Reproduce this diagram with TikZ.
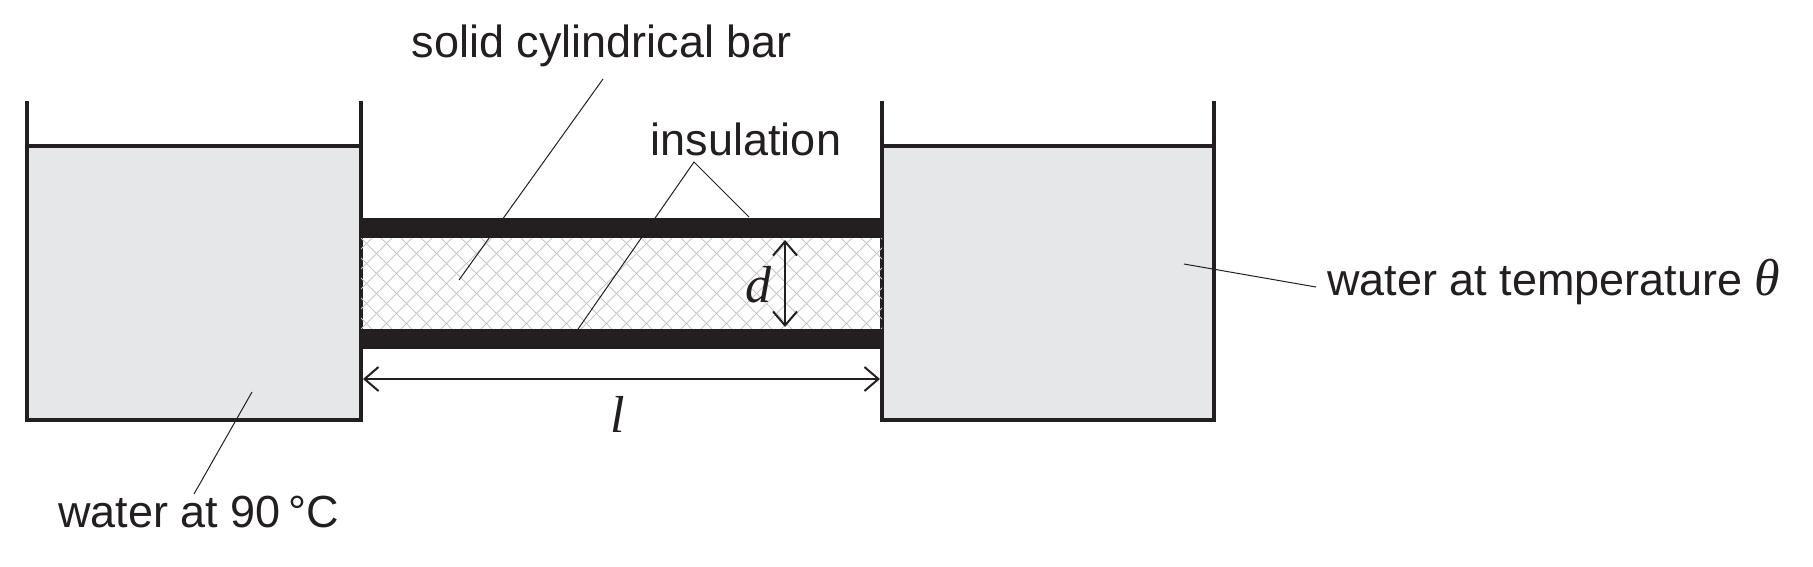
\documentclass[tikz,border=0pt]{standalone}
\usepackage{fontspec}
\setmainfont{Liberation Sans}
\newfontfamily\serif{Liberation Serif}
\usetikzlibrary{arrows.meta}
\definecolor{water}{HTML}{E6E7E9}
\definecolor{ink}{HTML}{231F20}
\begin{document}
\begin{tikzpicture}[x=1pt,y=-1pt,
  wall/.style={draw=ink,line width=3.5pt},
  lead/.style={draw=ink,line width=1pt},
  dim/.style={draw=ink,line width=2.5pt,{Straight Barb[length=14pt,width=24pt,line width=2pt]}-{Straight Barb[length=14pt,width=24pt,line width=2pt]}},
  lbl/.style={font=\fontsize{45}{48}\selectfont,text=ink,inner sep=0pt},
  var/.style={font=\fontsize{52}{54}\selectfont\serif\itshape,text=ink,inner sep=0pt}]
\useasboundingbox (0,0) rectangle (1813,566);
% tanks
\fill[water] (27,146) rectangle (361,420);
\fill[water] (882,146) rectangle (1214,420);
\draw[wall] (27,101) -- (27,420) -- (361,420) -- (361,101);
\draw[wall] (27,146) -- (361,146);
\draw[wall] (882,101) -- (882,420) -- (1214,420) -- (1214,101);
\draw[wall] (882,146) -- (1214,146);
% hatch
\begin{scope}
\clip (361,238) rectangle (882,329);
\foreach \i in {0,20,...,700}{
  \draw[gray!45,line width=0.9pt] (261+\i,238) -- (261+\i+91,329);
  \draw[gray!45,line width=0.9pt] (261+\i,329) -- (261+\i+91,238);
}
\end{scope}
\fill[ink] (361,218) rectangle (882,238);
\fill[ink] (361,329) rectangle (882,349);
% dimensions
\coordinate (la) at (363,379); \coordinate (lb) at (880,379);
\draw[dim] (la) -- (lb);
\node[var] (l) at (618,414) {l};
\coordinate (da) at (785,240); \coordinate (db) at (785,327);
\draw[dim] (da) -- (db);
\node[var] (d) at (758,285) {d};
% labels
\node[lbl] (bar) at (602,46) {solid cylindrical bar};
\coordinate (b1) at (603,79); \coordinate (b2) at (459,280);
\draw[lead] (b1) -- (b2);
\node[lbl] (ins) at (746,139) {insulation};
\coordinate (i0) at (694,162); \coordinate (i1) at (749,217); \coordinate (i2) at (576,332);
\draw[lead] (i1) -- (i0) -- (i2);
\node[lbl,anchor=west] (wt) at (1327,282) {water at temperature {\serif\itshape\fontsize{52}{54}\selectfont θ}};
\coordinate (w1) at (1316,287); \coordinate (w2) at (1184,264);
\draw[lead] (w1) -- (w2);
\node[lbl,anchor=west] (w90) at (58,512) {water at 90\,°C};
\coordinate (c1) at (194,494); \coordinate (c2) at (252,392);
\draw[lead] (c1) -- (c2);
\end{tikzpicture}
\end{document}
